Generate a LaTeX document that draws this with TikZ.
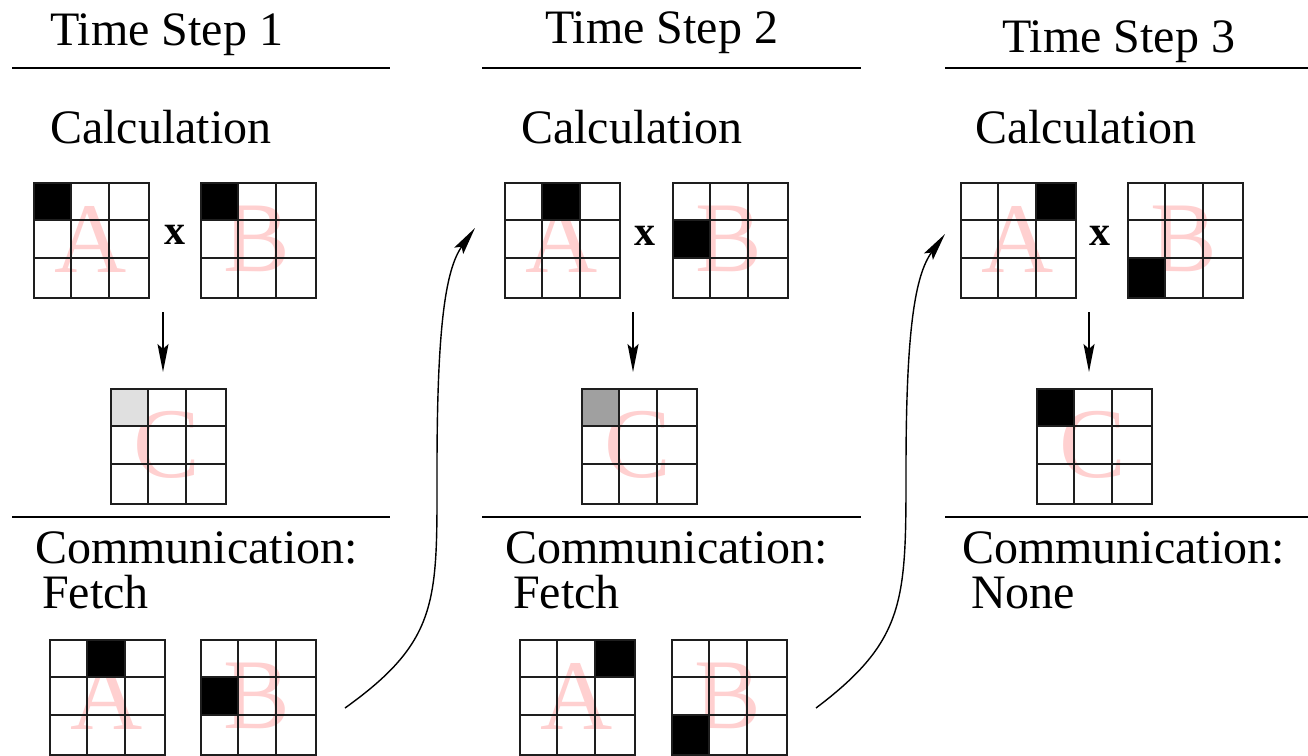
\documentclass[tikz,border=0pt]{standalone}
\usepackage{fontspec}
\setmainfont{Liberation Serif}
\usetikzlibrary{arrows.meta}
\definecolor{pinkl}{RGB}{255,208,208}
\definecolor{gridc}{RGB}{30,30,30}
\definecolor{grayA}{RGB}{224,224,224}
\definecolor{grayB}{RGB}{160,160,160}
\tikzset{
  lbl/.style={anchor=base west, inner sep=0pt, font=\fontsize{48}{50}\selectfont},
  bigletter/.style={inner sep=0pt, text=pinkl, font=\fontsize{100}{100}\selectfont},
  gridbox/.style={draw=gridc, line width=2pt, minimum size=114.6pt, inner sep=0pt, anchor=north west},
  gridline/.style={draw=gridc, line width=2pt},
  sepline/.style={line width=1.5pt},
  arr/.style={line width=1.4pt, -{Stealth[length=28pt,width=11pt,inset=5pt]}},
  timessign/.style={inner sep=0pt, font=\fontsize{42}{42}\selectfont\bfseries}
}
% #1 name, #2 x, #3 y, #4 letter, #5 row, #6 col, #7 colour
\newcommand\mgrid[7]{%
  \node[bigletter] (#1-t) at (#2+57.3,#3+57.3) {#4};
  \fill[#7] (#2+#6*38.2,#3+#5*38.2) rectangle ++(38.2,38.2);
  \draw[gridline] (#2+38.2,#3) -- ++(0,114.6) (#2+76.4,#3) -- ++(0,114.6)
    (#2,#3+38.2) -- ++(114.6,0) (#2,#3+76.4) -- ++(114.6,0);
  \node[gridbox] (#1) at (#2,#3) {};
}
\begin{document}
\begin{tikzpicture}[x=1pt,y=-1pt]
\useasboundingbox (0,0) rectangle (1308,755);

% ---------- Column 1 ----------
\node[lbl] (h1) at (50,45) {Time Step 1};
\draw[sepline] (12,68) -- (390,68);
\node[lbl] (calc1) at (50,143) {Calculation};
\mgrid{A1}{33}{182}{A}{0}{0}{black}
\node[timessign] (x1) at (175,235) {x};
\mgrid{B1}{200}{182}{B}{0}{0}{black}
\mgrid{C1}{110}{388}{C}{0}{0}{grayA}
\coordinate (s1) at (163,312);
\draw[arr, shorten >=16pt] (s1) -- (s1 |- C1.north);
\draw[sepline] (12,517) -- (390,517);
\node[lbl] (com1) at (35,563) {Communication:};
\node[lbl] (f1) at (42,608) {Fetch};
\mgrid{FA1}{49}{639}{A}{0}{1}{black}
\mgrid{FB1}{200}{639}{B}{1}{0}{black}

% ---------- Column 2 ----------
\node[lbl] (h2) at (545,43) {Time Step 2};
\draw[sepline] (482,68) -- (861,68);
\node[lbl] (calc2) at (521,143) {Calculation};
\mgrid{A2}{504}{182}{A}{0}{1}{black}
\node[timessign] (x2) at (645,236) {x};
\mgrid{B2}{672}{182}{B}{1}{0}{black}
\mgrid{C2}{581}{388}{C}{0}{0}{grayB}
\coordinate (s2) at (633,312);
\draw[arr, shorten >=16pt] (s2) -- (s2 |- C2.north);
\draw[sepline] (482,517) -- (861,517);
\node[lbl] (com2) at (505,563) {Communication:};
\node[lbl] (f2) at (513,608) {Fetch};
\mgrid{FA2}{519}{639}{A}{0}{2}{black}
\mgrid{FB2}{671}{639}{B}{2}{0}{black}

% ---------- Column 3 ----------
\node[lbl] (h3) at (1002,52) {Time Step 3};
\draw[sepline] (945,68) -- (1308,68);
\node[lbl] (calc3) at (975,143) {Calculation};
\mgrid{A3}{960}{182}{A}{0}{2}{black}
\node[timessign] (x3) at (1100,236) {x};
\mgrid{B3}{1127}{182}{B}{2}{0}{black}
\mgrid{C3}{1036}{388}{C}{0}{0}{black}
\coordinate (s3) at (1089,312);
\draw[arr, shorten >=16pt] (s3) -- (s3 |- C3.north);
\draw[sepline] (945,517) -- (1308,517);
\node[lbl] (com3) at (962,563) {Communication:};
\node[lbl] (n3) at (971,608) {None};

% ---------- curved transfer arrows ----------
\coordinate (q1s) at (345,708);
\coordinate (q1e) at (475,228);
\draw[arr] (q1s) .. controls (440,640) and (437,600) .. (437,470)
  .. controls (437,330) and (445,270) .. (q1e);
\coordinate (q2s) at (816,708);
\coordinate (q2e) at (945,234);
\draw[arr] (q2s) .. controls (906,640) and (906,600) .. (906,470)
  .. controls (906,330) and (915,275) .. (q2e);
\end{tikzpicture}
\end{document}
